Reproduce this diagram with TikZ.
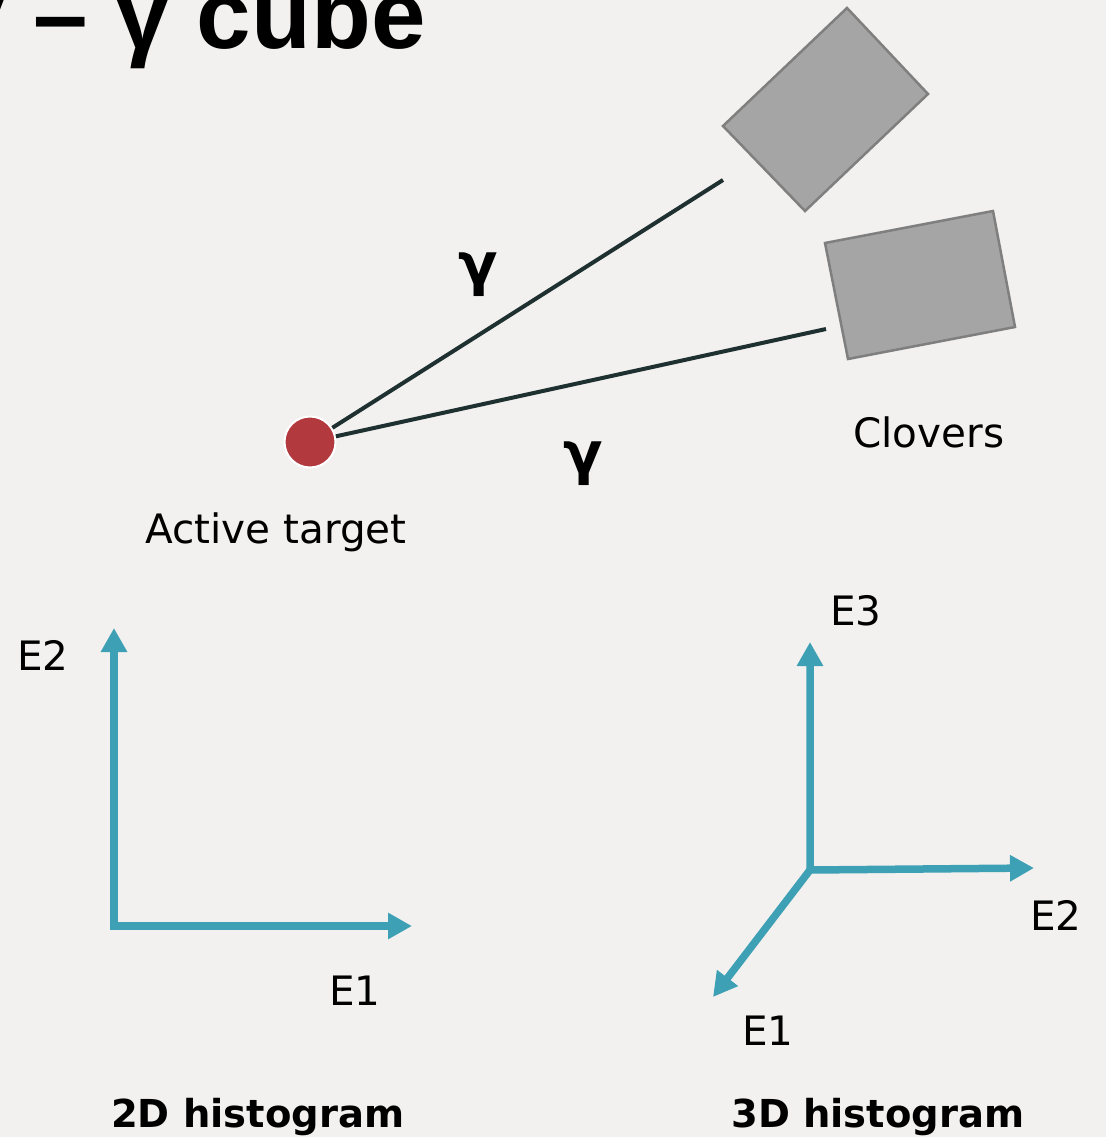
\documentclass[tikz,border=0pt]{standalone}
\usepackage{fontspec}
\setmainfont{DejaVu Sans}
\newfontfamily\titlefont{Liberation Sans}
\usetikzlibrary{arrows.meta}
\definecolor{bgc}{RGB}{242,241,239}
\definecolor{axisc}{RGB}{62,160,180}
\definecolor{beamc}{RGB}{31,48,48}
\definecolor{targetc}{RGB}{178,58,62}
\definecolor{detfill}{RGB}{165,165,165}
\definecolor{detline}{RGB}{127,127,127}
\tikzset{
  lbl/.style={inner sep=0pt, anchor=base west, font=\fontsize{40.5}{46}\selectfont},
  boldlbl/.style={lbl, font=\fontsize{38.5}{46}\selectfont\bfseries},
  gam/.style={inner sep=0pt, anchor=base, font=\fontsize{58}{60}\selectfont\bfseries},
  beam/.style={draw=beamc, line width=4pt},
  detector/.style={fill=detfill, draw=detline, line width=2.5pt, line join=miter},
  axis/.style={draw=axisc, line width=7.5pt, line join=miter, -{Triangle[length=24pt,width=25pt]}},
  axisboth/.style={axis, {Triangle[length=24pt,width=25pt]}-{Triangle[length=24pt,width=25pt]}}
}
\begin{document}
\begin{tikzpicture}[x=1pt,y=-1pt]
\useasboundingbox (0,0) rectangle (1106,1137);
\clip (0,0) rectangle (1106,1137);
\fill[bgc] (0,0) rectangle (1106,1137);
% title
\node (title) [inner sep=0pt, anchor=base east, font=\titlefont\fontsize{98}{100}\selectfont\bfseries] at (426,49) {γ – γ cube};
% detectors
\coordinate (d1a) at (847,8);
\coordinate (d1b) at (928,94);
\coordinate (d1c) at (805,211);
\coordinate (d1d) at (723,126);
\path[detector] (d1a) -- (d1b) -- (d1c) -- (d1d) -- cycle;
\coordinate (d2a) at (825,243);
\coordinate (d2b) at (993,211);
\coordinate (d2c) at (1015,327);
\coordinate (d2d) at (848,359);
\path[detector] (d2a) -- (d2b) -- (d2c) -- (d2d) -- cycle;
% beams
\coordinate (end1) at (723,180);
\coordinate (end2) at (826,329);
\node (target) [circle, minimum size=51pt, inner sep=0pt, fill=targetc, draw=white, line width=2pt] at (310,442) {};
\draw[beam] (target) -- (end1);
\draw[beam] (target) -- (end2);
\node (g1) [gam] at (478,284) {γ};
\node (g2) [gam] at (583,473) {γ};
\node (clovers) [lbl] at (853,447) {Clovers};
\node (active) [lbl] at (145,543) {Active target};
% 2D histogram axes
\coordinate (o2) at (114,926);
\coordinate (t2y) at (114,628);
\coordinate (t2x) at (412,926);
\draw[axisboth] (t2y) -- (o2) -- (t2x);
\node (e2a) [lbl] at (17,670) {E2};
\node (e1a) [lbl] at (329,1005) {E1};
\node (h2) [boldlbl] at (111,1127) {2D histogram};
% 3D histogram axes
\coordinate (o3) at (810,870);
\coordinate (t3z) at (810,642);
\coordinate (t3y) at (1034,868);
\coordinate (t3x) at (713,997);
\draw[axisboth] (t3z) -- (o3) -- (t3y);
\draw[axis] (o3) -- (t3x);
\node (e3b) [lbl] at (830,625) {E3};
\node (e2b) [lbl] at (1030,930) {E2};
\node (e1b) [lbl] at (742,1045) {E1};
\node (h3) [boldlbl] at (731,1127) {3D histogram};
\end{tikzpicture}
\end{document}
